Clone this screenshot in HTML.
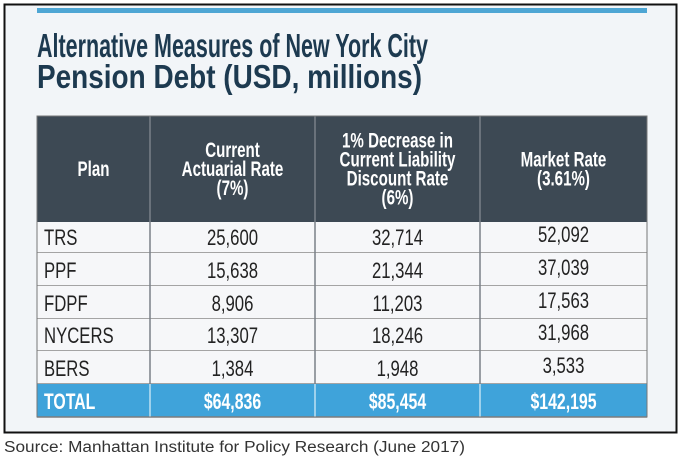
<!DOCTYPE html>
<html><head><meta charset="utf-8"><style>
body{margin:0;background:#fff;width:681px;height:463px;overflow:hidden}
svg text{font-family:"Liberation Sans",sans-serif}
</style></head><body>
<svg id="svg" width="681" height="463" viewBox="0 0 681 463">
<rect x="4.5" y="4.5" width="672" height="428" fill="#f2f5f8" stroke="#111" stroke-width="2"/>
<rect x="37" y="8" width="610" height="5" fill="#4ea6d4"/>
<g fill="#1d3a50" font-weight="bold" font-size="33">
<text x="37" y="57" textLength="391" lengthAdjust="spacingAndGlyphs">Alternative Measures of New York City</text>
<text x="37" y="88" textLength="385" lengthAdjust="spacingAndGlyphs">Pension Debt (USD, millions)</text>
</g>
<g id="tbl"></g>
<text x="4" y="452" font-size="15.5" fill="#333" textLength="461" lengthAdjust="spacingAndGlyphs">Source: Manhattan Institute for Policy Research (June 2017)</text>
</svg>
<script>
const plans=["TRS","PPF","FDPF","NYCERS","BERS"];
const actuarial=["25,600","15,638","8,906","13,307","1,384"];
const decrease=["32,714","21,344","11,203","18,246","1,948"];
const market=["52,092","37,039","17,563","31,968","3,533"];
const totals=["TOTAL","$64,836","$85,454","$142,195"];
const headers=[["Plan"],["Current","Actuarial Rate","(7%)"],["1% Decrease in","Current Liability","Discount Rate","(6%)"],["Market Rate","(3.61%)"]];
const NS="http://www.w3.org/2000/svg";
const g=document.getElementById('tbl');
const cols=[37,150,315,480,647];
const rowsY=[222,253,286,319,351,384,417];
function mk(t,a,txt){const e=document.createElementNS(NS,t);for(const k in a)e.setAttribute(k,a[k]);if(txt!==undefined)e.textContent=txt;g.appendChild(e);return e;}
function squeeze(t,f){const w=t.getComputedTextLength();t.setAttribute('textLength',(w*f).toFixed(1));t.setAttribute('lengthAdjust','spacingAndGlyphs');}
let h=mk('rect',{x:37,y:116,width:610,height:106,fill:"#3d4954"});


headers.forEach((lines,i)=>{const cx=(cols[i]+cols[i+1])/2;const n=lines.length;const top=169-(n-1)*9.5;
lines.forEach((l,j)=>{const t=mk('text',{x:cx,y:top+j*19+7,"text-anchor":"middle",fill:"#fff","font-weight":"bold","font-size":21},l);


squeeze(t,0.72);});});
const data=[plans,actuarial,decrease,market];
for(let r=0;r<6;r++){const y0=rowsY[r],y1=rowsY[r+1];const tot=r==5;
let bg=mk('rect',{x:37,y:y0,width:610,height:y1-y0,fill:tot?"#3fa3da":"#f6f7f9"});


for(let c=0;c<4;c++){const v=tot?totals[c]:data[c][r];
const x=c==0?44:(cols[c]+cols[c+1])/2;
const yy=(c==3&&!tot)?y1-11:y1-8;
const t=mk('text',{x:x,y:yy,"text-anchor":c==0?"start":"middle",fill:tot?"#fff":"#222","font-size":22,"font-weight":tot?"bold":"normal"},v);


squeeze(t,tot?0.72:0.76);}
mk('line',{x1:37,x2:647,y1:y1,y2:y1,stroke:"#888","stroke-width":1.5});}
for(let c=1;c<4;c++){mk('line',{x1:cols[c],x2:cols[c],y1:116,y2:384,stroke:"#7a8088","stroke-width":1.5});
mk('line',{x1:cols[c],x2:cols[c],y1:384,y2:417,stroke:"#bfe0f2","stroke-width":1.5});}
mk('rect',{x:37,y:116,width:610,height:301,fill:"none",stroke:"#777","stroke-width":1});
</script>
</body></html>
